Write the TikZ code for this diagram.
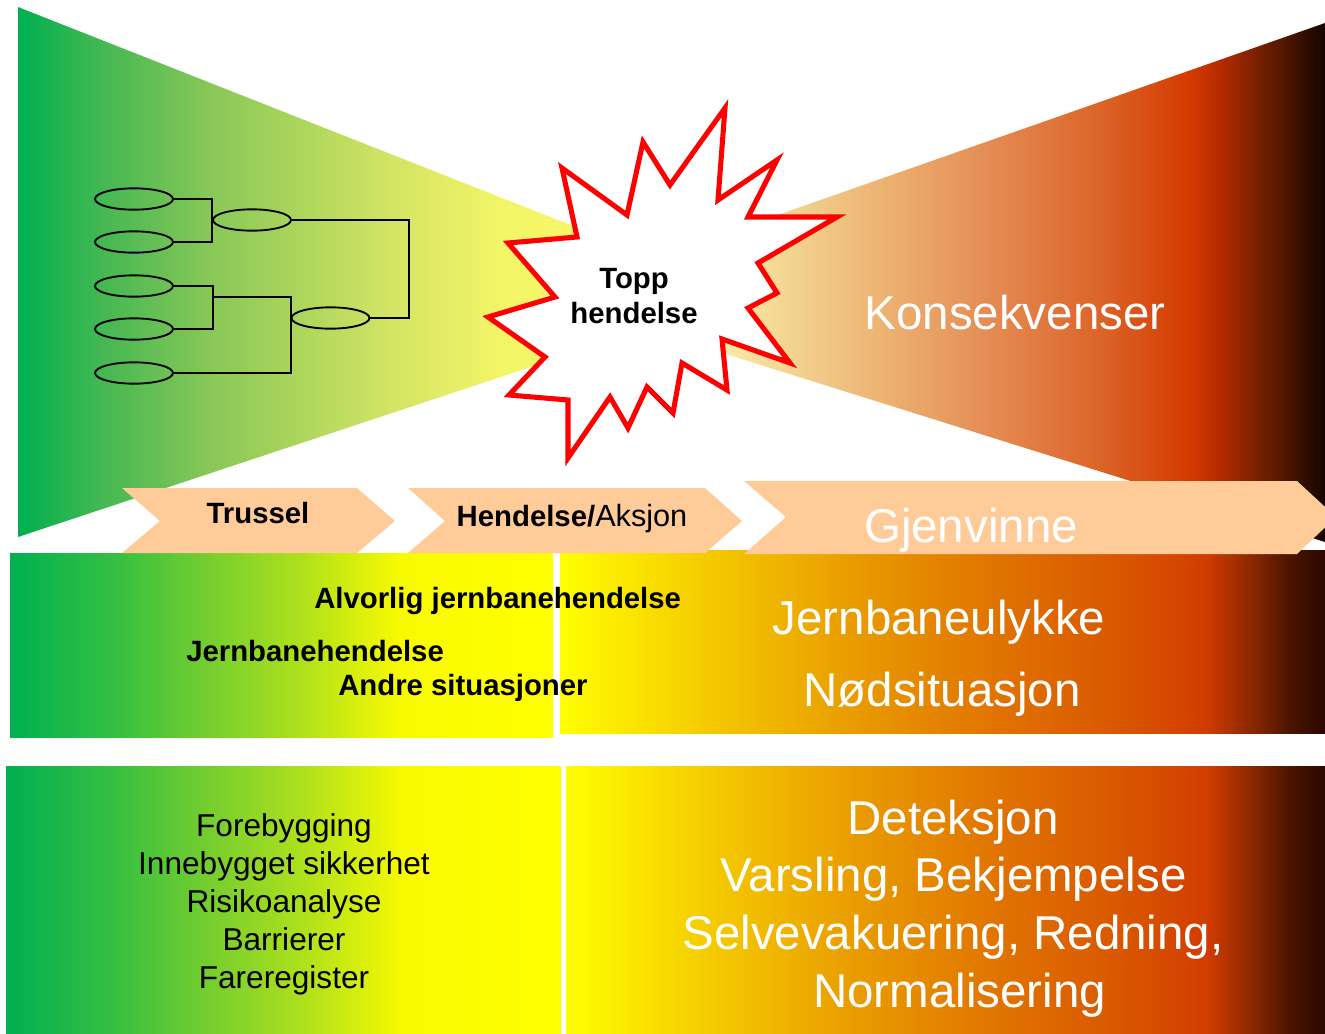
\documentclass[tikz,border=0pt]{standalone}
\usepackage{fontspec}
\setmainfont{Liberation Sans}
\usetikzlibrary{shapes.geometric}

% colours
\definecolor{peach}{HTML}{FFCC99}
\definecolor{tA}{HTML}{00B050}
\definecolor{tB}{HTML}{48B852}
\definecolor{tC}{HTML}{8AC858}
\definecolor{tD}{HTML}{ACD65C}
\definecolor{tE}{HTML}{D5E464}
\definecolor{tF}{HTML}{F2F566}
\definecolor{tG}{HTML}{F8F86A}
\definecolor{tH}{HTML}{FFFF70}
\definecolor{cA}{HTML}{FFFBD0}
\definecolor{cB}{HTML}{F8ECA8}
\definecolor{cC}{HTML}{EFBE7C}
\definecolor{cD}{HTML}{E38850}
\definecolor{cE}{HTML}{DC6428}
\definecolor{cF}{HTML}{D43A00}
\definecolor{cG}{HTML}{B42A00}
\definecolor{cH}{HTML}{6A1E00}
\definecolor{cI}{HTML}{140500}
\definecolor{rA}{HTML}{FFFF00}
\definecolor{rB}{HTML}{F5CC00}
\definecolor{rC}{HTML}{E99C00}
\definecolor{rD}{HTML}{E07200}
\definecolor{rE}{HTML}{D85400}
\definecolor{rF}{HTML}{D23C00}
\definecolor{rG}{HTML}{8C2800}
\definecolor{rH}{HTML}{4A1400}
\definecolor{rI}{HTML}{2A0800}
\definecolor{lA}{HTML}{00B050}
\definecolor{lB}{HTML}{38C040}
\definecolor{lC}{HTML}{70CC30}
\definecolor{lD}{HTML}{AEE01C}
\definecolor{lE}{HTML}{F8FA00}
\definecolor{lF}{HTML}{FFFF00}

% gradients
\pgfdeclarehorizontalshading{threatshade}{100bp}{color(0bp)=(tA); color(25bp)=(tA); color(31.1bp)=(tB); color(38.4bp)=(tC); color(44.3bp)=(tD); color(50.7bp)=(tE); color(58bp)=(tF); color(64.9bp)=(tG); color(75bp)=(tH); color(100bp)=(tH)}
\pgfdeclarehorizontalshading{coneshade}{100bp}{color(0bp)=(cA); color(25bp)=(cA); color(36.2bp)=(cB); color(44.6bp)=(cC); color(54.2bp)=(cD); color(60.6bp)=(cE); color(66.4bp)=(cF); color(68.3bp)=(cG); color(71.2bp)=(cH); color(75bp)=(cI); color(100bp)=(cI)}
\pgfdeclarehorizontalshading{hotshade}{100bp}{color(0bp)=(rA); color(25bp)=(rA); color(34.2bp)=(rB); color(44bp)=(rC); color(53.8bp)=(rD); color(62.3bp)=(rE); color(67.2bp)=(rF); color(70.1bp)=(rG); color(72.7bp)=(rH); color(75bp)=(rI); color(100bp)=(rI)}
\pgfdeclarehorizontalshading{coolshade}{100bp}{color(0bp)=(lA); color(25bp)=(lA); color(35.1bp)=(lB); color(42.5bp)=(lC); color(51.7bp)=(lD); color(60.9bp)=(lE); color(75bp)=(lF); color(100bp)=(lF)}

\begin{document}
\begin{tikzpicture}[x=0.75pt, y=-0.75pt,
    boldlbl/.style={font=\fontsize{22}{26}\selectfont\bfseries, inner sep=0pt},
    biglbl/.style={font=\fontsize{35.6}{42}\selectfont, text=white, inner sep=0pt},
    midlbl/.style={font=\fontsize{23.7}{28}\selectfont, inner sep=0pt},
    evt/.style={draw, ellipse, line width=1.4pt, minimum width=58.5pt, minimum height=16pt, inner sep=0pt},
    tree/.style={line width=1.4pt},
    band/.style={fill=peach}]
    \useasboundingbox (0,0) rectangle (1325,1033);

    % Threat cone and consequence cone
    \shade[shading=threatshade] (18,7) -- (748,295) -- (18,537) -- cycle;
    \shade[shading=coneshade] (544,297) -- (1325,23) -- (1325,542) -- cycle;

    % Fault tree
    \foreach \y [count=\i] in {199,242,286,329,373} {
        \node[evt] (e\i) at (134,\y) {};
    }
    \node[evt] (m1) at (252,220) {};
    \node[evt] (m2) at (330.5,318) {};
    \coordinate (b2) at (213,297);
    \coordinate (tj) at (409,220);
    \draw[tree] (e1.east) -| (m1.west) |- (e2.east);
    \draw[tree] (e3.east) -| (b2) |- (e4.east);
    \draw[tree] (b2) -| (m2.west) |- (e5.east);
    \draw[tree] (m1.east) -- (tj) |- (m2.east);

    % Top event star
    \draw[draw=red, fill=white, line width=3.8pt, line join=miter]
        (725,108) -- (718,200) -- (777,160) -- (748,217) -- (837,217) -- (758,263)
        -- (777,293) -- (748,308) -- (790,363) -- (722,339) -- (727,390) -- (682,363)
        -- (673,413) -- (647,387) -- (628,428) -- (610,397) -- (568,458) -- (568,400)
        -- (509,395) -- (545,357) -- (488,317) -- (555,297) -- (508,243) -- (577,237)
        -- (562,168) -- (627,215) -- (643,142) -- (670,185) -- cycle;
    \node[boldlbl, anchor=base] (topp) at (634,288) {Topp};
    \node[boldlbl, anchor=base] (hend) at (634,323) {hendelse};
    \node[biglbl, anchor=base] (kons) at (1015,329) {Konsekvenser};

    % Situation band
    \shade[shading=coolshade] (10,553) rectangle (553,737);
    \shade[shading=hotshade] (560,550) rectangle (1325,733);

    % Measures band
    \shade[shading=coolshade] (6,766) rectangle (561,1033);
    \shade[shading=hotshade] (566,766) rectangle (1325,1033);

    % Phase arrows
    \fill[band] (122,488) -- (357,488) -- (395,521) -- (357,553) -- (122,553) -- (160,521) -- cycle;
    \fill[band] (408,488) -- (705,488) -- (742,521) -- (705,553) -- (408,553) -- (445,521) -- cycle;
    \fill[band] (744,481) -- (1297,481) -- (1336,517) -- (1297,554) -- (744,554) -- (786,517) -- cycle;
    \node[boldlbl, anchor=base] (trussel) at (258,523) {Trussel};
    \node[boldlbl, anchor=base] (aksjon) at (572,526) {Hendelse/\mdseries\fontsize{23}{26}\selectfont Aksjon};
    \node[biglbl, anchor=base] (gjen) at (971,542) {Gjenvinne};

    % Situations
    \node[boldlbl, anchor=base west] (alv) at (314,608.5) {Alvorlig jernbanehendelse};
    \node[boldlbl, anchor=base west] (jbh) at (186,661) {Jernbanehendelse};
    \node[boldlbl, anchor=base west] (andre) at (338,695.5) {Andre situasjoner};
    \node[biglbl, anchor=base] (ulykke) at (939,634) {Jernbaneulykke};
    \node[biglbl, anchor=base] (nod) at (942,706) {Nødsituasjon};

    % Measures
    \foreach \y/\txt [count=\i] in {836/Forebygging, 874/Innebygget sikkerhet, 912.5/Risikoanalyse, 950.5/Barrierer, 988.5/Fareregister} {
        \node[midlbl, anchor=base] (pre\i) at (284,\y) {\txt};
    }
    \foreach \x/\y/\txt [count=\i] in {953/834/Deteksjon, 953.5/891.5/{Varsling, Bekjempelse}, 953/949/{Selvevakuering, Redning,}, 959.5/1007/Normalisering} {
        \node[biglbl, anchor=base] (post\i) at (\x,\y) {\txt};
    }
\end{tikzpicture}
\end{document}
